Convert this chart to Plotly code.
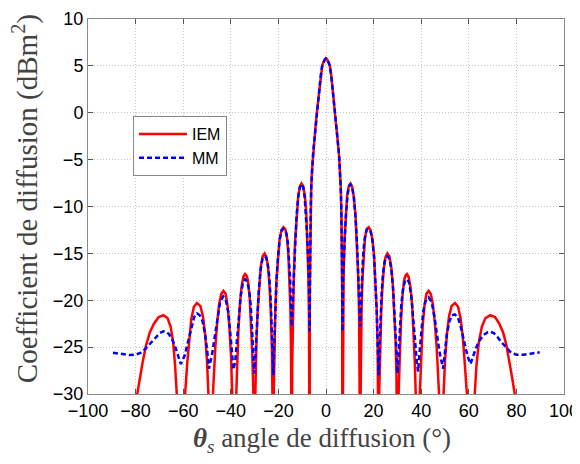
import plotly.graph_objects as go

# ---------------- data ----------------
# IEM (red, solid) - right half, outward from 0
iem_x_right = [0, 0.5, 1.0, 1.6, 2.2, 2.8, 3.4, 3.9, 4.5, 5.0, 5.5, 5.9, 6.2, 6.45, 6.65, 6.8, 6.9,
               7.0, 7.15, 7.4, 7.8, 8.3, 8.9, 9.6, 10.3, 11.0, 11.7, 12.4, 13.0, 13.5, 13.9, 14.2, 14.4,
               14.55, 14.7, 14.95, 15.3, 15.8, 16.4, 17.1, 17.9, 18.7, 19.5, 20.2, 20.8, 21.3, 21.7, 21.95, 22.1,
               22.35, 22.7, 23.2, 23.7, 24.3, 25.0, 25.8, 26.6, 27.4, 28.1, 28.7, 29.2, 29.6, 29.85, 30.1,
               30.5, 31.0, 31.5, 32.1, 32.8, 33.4, 34.0, 34.7, 35.5, 36.2, 36.8, 37.3, 37.7, 38.5,
               39.4, 39.9, 40.6, 41.4, 42.2, 43.1, 44.0, 44.9, 45.7, 46.5, 47.1, 47.5, 48.5,
               49.4, 50.0, 50.8, 51.7, 52.8, 54.2, 55.5, 56.6, 57.5, 58.3, 59.2, 60.8,
               62.5, 63.2, 64.2, 65.5, 67.0, 69.0, 71.0, 72.8, 74.4, 75.8, 77.2, 78.3, 79.3, 81.0, 83.0]
iem_y_right = [5.8, 5.7, 5.45, 5.0, 4.0, 2.6, 1.1, -0.1, -1.8, -3.2, -4.6, -6.2, -8.0, -10.5, -14.0, -19.0, -40.0,
               -28.0, -22.0, -17.5, -13.5, -10.6, -8.8, -7.8, -7.55, -7.9, -9.0, -11.0, -13.8, -17.2, -21.5, -27.0, -40.0,
               -30.0, -25.0, -21.0, -17.8, -15.2, -13.3, -12.4, -12.2, -12.5, -13.5, -15.3, -17.8, -21.0, -25.0, -30.0, -40.0,
               -30.0, -25.5, -21.2, -18.6, -16.6, -15.4, -15.0, -15.3, -16.4, -18.4, -21.0, -24.2, -28.0, -32.0, -42.0,
               -30.0, -25.5, -22.3, -19.6, -17.9, -17.35, -17.2, -17.5, -18.6, -20.5, -23.2, -26.5, -30.0, -42.0,
               -30.0, -26.0, -22.8, -20.5, -19.3, -19.0, -19.3, -20.4, -22.3, -25.0, -27.8, -30.0, -42.0,
               -30.0, -26.5, -23.6, -21.7, -20.6, -20.3, -20.7, -22.0, -24.0, -26.7, -30.0, -45.0,
               -30.0, -27.0, -24.5, -22.8, -21.9, -21.6, -21.8, -22.5, -23.4, -24.8, -26.7, -28.4, -30.0, -33.0, -38.0]

# IEM - left half, outward from 0
iem_x_left = [-0.5, -1.0, -1.6, -2.2, -2.8, -3.4, -3.9, -4.5, -5.0, -5.5, -5.9, -6.2, -6.45, -6.65, -6.8, -6.9,
              -7.0, -7.15, -7.4, -7.8, -8.3, -8.9, -9.6, -10.3, -11.0, -11.7, -12.4, -13.0, -13.5, -13.9, -14.2, -14.4,
              -14.55, -14.7, -14.95, -15.3, -15.8, -16.4, -17.1, -17.9, -18.7, -19.5, -20.2, -20.8, -21.3, -21.7, -21.95, -22.1,
              -22.35, -22.7, -23.2, -23.7, -24.3, -25.0, -25.8, -26.6, -27.4, -28.1, -28.7, -29.2, -29.6, -29.85, -30.1,
              -30.5, -31.0, -31.5, -32.1, -32.8, -33.4, -34.0, -34.7, -35.5, -36.2, -36.8, -37.3, -37.7, -38.5,
              -39.4, -39.9, -40.6, -41.4, -42.2, -43.1, -44.0, -44.9, -45.7, -46.5, -47.1, -47.5, -48.5,
              -49.4, -50.0, -50.8, -51.7, -52.8, -54.2, -55.5, -56.6, -57.5, -58.3, -59.2, -60.8,
              -62.7, -63.4, -64.2, -65.3, -66.6, -68.3, -70.3, -72.3, -74.0, -75.6, -77.1, -78.3, -79.3, -81.0, -83.0]
iem_y_left = [5.7, 5.45, 5.0, 4.0, 2.6, 1.1, -0.1, -1.8, -3.2, -4.6, -6.2, -8.0, -10.5, -14.0, -19.0, -40.0,
              -28.0, -22.0, -17.5, -13.5, -10.6, -8.8, -7.8, -7.55, -7.9, -9.0, -11.0, -13.8, -17.2, -21.5, -27.0, -40.0,
              -30.0, -25.0, -21.0, -17.8, -15.2, -13.3, -12.4, -12.2, -12.5, -13.5, -15.3, -17.8, -21.0, -25.0, -30.0, -40.0,
              -30.0, -25.5, -21.2, -18.6, -16.6, -15.4, -15.0, -15.3, -16.4, -18.4, -21.0, -24.2, -28.0, -32.0, -42.0,
              -30.0, -25.5, -22.3, -19.6, -17.9, -17.35, -17.2, -17.5, -18.6, -20.5, -23.2, -26.5, -30.0, -42.0,
              -30.0, -26.0, -22.8, -20.5, -19.3, -19.0, -19.3, -20.4, -22.3, -25.0, -27.8, -30.0, -42.0,
              -30.0, -26.5, -23.6, -21.7, -20.6, -20.3, -20.7, -22.0, -24.0, -26.7, -30.0, -45.0,
              -30.0, -27.0, -24.5, -22.8, -21.9, -21.6, -21.8, -22.5, -23.4, -24.8, -26.7, -28.4, -30.0, -33.0, -38.0]

# MM (blue, dashed) - right half, outward from 0
mm_x_right = [0, 0.5, 1.0, 1.6, 2.2, 2.8, 3.4, 3.9, 4.5, 5.0, 5.5, 5.9, 6.2, 6.45, 6.65, 6.8, 6.9,
              7.0, 7.2, 7.5, 7.9, 8.4, 9.0, 9.6, 10.3, 11.0, 11.7, 12.4, 13.0, 13.5, 13.9, 14.2, 14.4,
              14.6, 14.8, 15.1, 15.5, 16.0, 16.6, 17.2, 17.9, 18.7, 19.5, 20.2, 20.8, 21.3, 21.7, 22.1,
              22.4, 22.8, 23.3, 23.9, 24.6, 25.3, 25.9, 26.7, 27.5, 28.2, 28.8, 29.4, 30.1,
              30.5, 31.0, 31.6, 32.3, 33.1, 34.0, 34.9, 35.8, 36.6, 37.4, 38.1, 38.7,
              39.3, 40.0, 40.8, 41.8, 43.1, 44.4, 45.6, 46.7, 47.9, 49.2,
              49.9, 50.8, 51.9, 53.0, 54.1, 55.4, 56.7, 57.9, 59.4, 60.7,
              61.8, 63.0, 64.5, 66.2, 68.0, 69.0, 70.5, 72.0, 73.8, 75.8, 77.8, 80.0, 83.0, 86.0, 89.8]
mm_y_right = [5.8, 5.7, 5.45, 5.0, 4.0, 2.6, 1.1, -0.1, -1.8, -3.2, -4.6, -6.2, -8.0, -10.4, -13.8, -17.8, -23.3,
              -19.8, -17.3, -15.6, -13.2, -10.8, -8.9, -7.9, -7.6, -7.95, -9.05, -11.1, -13.8, -16.6, -19.4, -21.5, -22.8,
              -21.3, -19.8, -17.6, -15.6, -13.9, -12.9, -12.45, -12.35, -12.6, -13.6, -15.4, -17.9, -21.0, -24.5, -28.0,
              -25.8, -22.6, -19.6, -17.3, -15.9, -15.4, -15.3, -15.6, -16.8, -18.8, -21.5, -24.8, -27.8,
              -25.8, -23.2, -20.6, -18.9, -18.0, -17.75, -18.1, -19.5, -21.5, -24.2, -26.5, -27.6,
              -25.6, -23.2, -21.3, -20.1, -19.7, -20.2, -21.8, -23.8, -25.8, -27.3,
              -25.4, -23.6, -22.2, -21.6, -21.5, -21.8, -22.9, -24.4, -25.9, -26.8,
              -25.9, -25.1, -24.3, -23.7, -23.4, -23.35, -23.5, -23.9, -24.5, -25.1, -25.6, -25.8, -25.8, -25.7, -25.55]

# MM - left half, outward from 0
mm_x_left = [-0.5, -1.0, -1.6, -2.2, -2.8, -3.4, -3.9, -4.5, -5.0, -5.5, -5.9, -6.2, -6.45, -6.65, -6.8, -6.9,
             -7.0, -7.2, -7.5, -7.9, -8.4, -9.0, -9.6, -10.3, -11.0, -11.7, -12.4, -13.0, -13.5, -13.9, -14.2, -14.4,
             -14.6, -14.8, -15.1, -15.5, -16.0, -16.6, -17.2, -17.9, -18.7, -19.5, -20.2, -20.8, -21.3, -21.7, -22.1,
             -22.4, -22.8, -23.3, -23.9, -24.6, -25.3, -25.9, -26.7, -27.5, -28.2, -28.8, -29.4, -30.1,
             -30.5, -31.0, -31.6, -32.3, -33.1, -34.0, -34.9, -35.8, -36.6, -37.4, -38.1, -38.9,
             -39.5, -40.2, -41.0, -42.0, -43.2, -44.5, -45.6, -46.7, -47.9, -49.2,
             -49.9, -50.8, -51.9, -53.0, -54.2, -55.4, -56.7, -57.9, -59.4, -61.0,
             -62.1, -63.3, -64.6, -66.0, -67.3, -68.3, -69.8, -71.5, -73.5, -75.6, -77.8, -80.0, -82.5, -86.0, -89.5]
mm_y_left = [5.7, 5.45, 5.0, 4.0, 2.6, 1.1, -0.1, -1.8, -3.2, -4.6, -6.2, -8.0, -10.4, -13.8, -17.8, -23.3,
             -19.8, -17.3, -15.6, -13.2, -10.8, -8.9, -7.9, -7.6, -7.95, -9.05, -11.1, -13.8, -16.6, -19.4, -21.5, -22.8,
             -21.3, -19.8, -17.6, -15.6, -13.9, -12.9, -12.45, -12.35, -12.6, -13.6, -15.4, -17.9, -21.0, -24.5, -28.0,
             -25.8, -22.6, -19.6, -17.3, -15.9, -15.4, -15.3, -15.6, -16.8, -18.8, -21.5, -24.8, -27.8,
             -25.8, -23.2, -20.6, -18.9, -18.0, -17.75, -18.1, -19.5, -21.5, -24.2, -26.5, -27.4,
             -25.6, -23.2, -21.3, -20.1, -19.6, -20.2, -21.8, -23.8, -25.8, -27.3,
             -25.4, -23.6, -22.2, -21.6, -21.4, -21.8, -22.9, -24.4, -25.9, -26.8,
             -25.9, -25.0, -24.2, -23.6, -23.35, -23.3, -23.5, -23.9, -24.5, -25.1, -25.6, -25.8, -25.85, -25.75, -25.6]

x_ticks = [-100, -80, -60, -40, -20, 0, 20, 40, 60, 80, 100]
y_ticks = [-30, -25, -20, -15, -10, -5, 0, 5, 10]

x_title = "<b><i>θ</i></b><sub><i>s</i></sub> angle de diffusion (°)"
y_title = "Coefficient de diffusion (dBm<sup>2</sup>)"

iem_x = iem_x_left[::-1] + iem_x_right
iem_y = iem_y_left[::-1] + iem_y_right
mm_x = mm_x_left[::-1] + mm_x_right
mm_y = mm_y_left[::-1] + mm_y_right

fig = go.Figure()
fig.add_trace(go.Scatter(x=iem_x, y=iem_y, mode="lines", name="IEM",
                         line=dict(color="#ff0000", width=2.5)))
fig.add_trace(go.Scatter(x=mm_x, y=mm_y, mode="lines", name="MM",
                         line=dict(color="#0000ff", width=2.5, dash="5px,3px")))

tickfont = dict(family="Liberation Sans, Arial, sans-serif", size=18, color="black")
serif_x = dict(family="Liberation Serif, Times New Roman, serif", size=27, color="#444444")
serif_y = dict(family="Liberation Serif, Times New Roman, serif", size=29, color="#444444")

axis_common = dict(tickfont=tickfont, showgrid=True, gridcolor="#c4c4c4", griddash="1px,2px",
                   gridwidth=1, zeroline=False, showline=True, linecolor="#8a8a8a", linewidth=1,
                   mirror="ticks", ticks="inside", ticklen=5, tickcolor="#555555", automargin=False)

# the page body adds an 8 px offset, so the figure is sized to fit the 580x464 window
fig.update_layout(
    width=572, height=456,
    margin=dict(l=80, r=16, t=11, b=70),
    paper_bgcolor="white", plot_bgcolor="white",
    showlegend=True,
    legend=dict(x=0.0945, y=0.741, xanchor="left", yanchor="top",
                bordercolor="#888888", borderwidth=1, bgcolor="white",
                font=dict(family="Liberation Sans, Arial, sans-serif", size=16, color="black"),
                tracegroupgap=0, itemwidth=48),
    xaxis=dict(range=[-100, 100], tickmode="array", tickvals=x_ticks, **axis_common),
    yaxis=dict(range=[-30, 10], tickmode="array", tickvals=y_ticks, **axis_common),
    annotations=[
        dict(text=x_title, xref="paper", yref="paper", x=0.4916, y=-0.123,
             xanchor="center", yanchor="middle", showarrow=False, font=serif_x),
        dict(text=y_title, xref="paper", yref="paper", x=-0.132, y=0.52,
             xanchor="center", yanchor="middle", showarrow=False, font=serif_y, textangle=-90),
    ],
)

fig.write_html("out.html")
